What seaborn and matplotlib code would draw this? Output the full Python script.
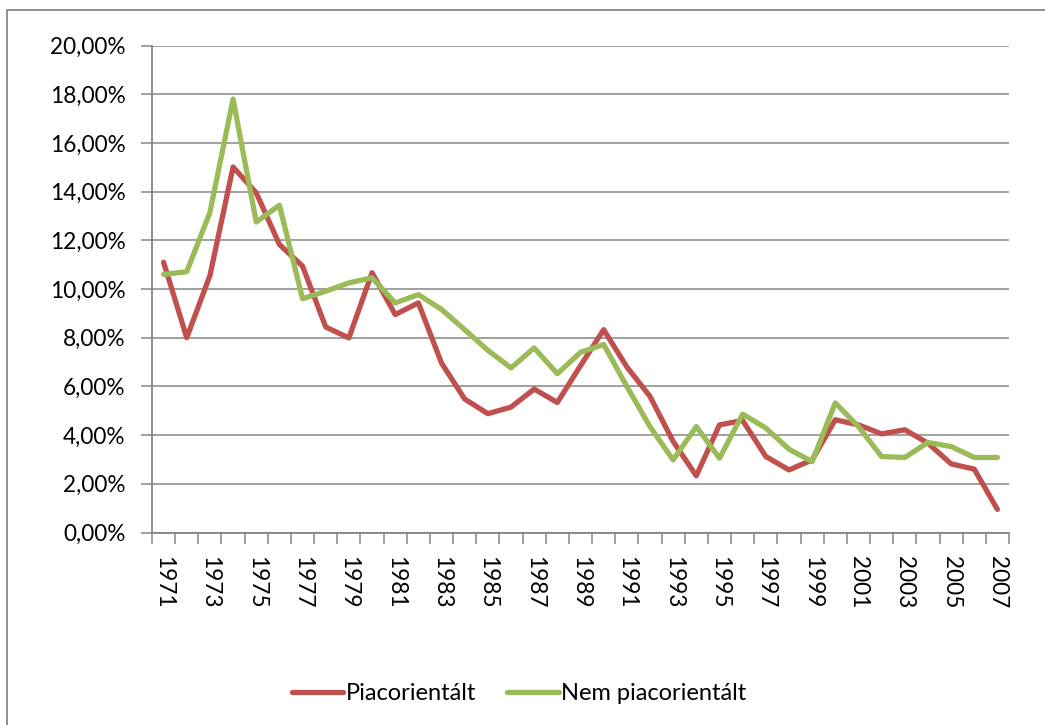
import matplotlib
matplotlib.use("Agg")
import matplotlib.pyplot as plt
import seaborn as sns
import pandas as pd
import numpy as np
from matplotlib.patches import Rectangle
from matplotlib.lines import Line2D

years = list(range(1971, 2008))
piac = [11.10, 8.00, 10.55, 15.01, 13.95, 11.83, 10.94, 8.44, 7.99, 10.67,
        8.95, 9.43, 6.96, 5.48, 4.88, 5.15, 5.89, 5.34, 6.85, 8.33,
        6.80, 5.59, 3.74, 2.33, 4.42, 4.60, 3.12, 2.57, 2.98, 4.63,
        4.42, 4.05, 4.22, 3.67, 2.82, 2.60, 0.95]
nem = [10.60, 10.71, 13.14, 17.80, 12.75, 13.44, 9.60, 9.91, 10.25, 10.46,
       9.43, 9.77, 9.16, 8.33, 7.48, 6.76, 7.58, 6.52, 7.40, 7.72,
       6.00, 4.35, 2.98, 4.35, 3.05, 4.86, 4.29, 3.42, 2.91, 5.32,
       4.35, 3.12, 3.08, 3.70, 3.53, 3.08, 3.08]
series_names = ["Piacorientált", "Nem piacorientált"]
colors = ["#C0504D", "#9BBB59"]
ytick_vals = [0, 2, 4, 6, 8, 10, 12, 14, 16, 18, 20]

sns.set_theme(style="white")
plt.rcParams['font.family'] = ['Lato', 'DejaVu Sans']
plt.rcParams['text.color'] = 'black'
plt.rcParams['xtick.labelcolor'] = 'black'
plt.rcParams['ytick.labelcolor'] = 'black'

df = pd.DataFrame({"idx": list(range(len(years))) * 2,
                   "value": piac + nem,
                   "series": [series_names[0]] * len(years) + [series_names[1]] * len(years)})

fig = plt.figure(figsize=(10.45, 7.25), dpi=100)
ax = fig.add_axes([152/1045, 1 - 532.5/725, (1009 - 152)/1045, (532.5 - 45.5)/725])

sns.lineplot(data=df, x="idx", y="value", hue="series", palette=colors,
             hue_order=series_names, linewidth=3.8, ax=ax, legend=False,
             sort=False, zorder=3)
for ln in ax.lines:
    ln.set_solid_joinstyle("round")
    ln.set_solid_capstyle("round")

ax.set_xlim(-0.5, len(years) - 0.5)
ax.set_ylim(0, 20)
ax.set_yticks(ytick_vals)
ax.set_yticklabels([f"{v:.2f}".replace(".", ",") + "%" for v in ytick_vals], fontsize=16.3)
ax.yaxis.grid(True, color="#868686", linewidth=1.1)
ax.set_axisbelow(True)

# x ticks at category boundaries, labels every other year
ax.set_xticks(np.arange(-0.5, len(years), 1.0))
ax.set_xticklabels([])
ax.set_xticks(list(range(0, len(years), 2)), minor=True)
ax.set_xticklabels([str(years[i]) for i in range(0, len(years), 2)], minor=True,
                   rotation=-90, fontsize=16.3)
ax.tick_params(axis="x", which="major", length=8, width=1.1, color="#868686", direction="out", bottom=True)
ax.tick_params(axis="x", which="minor", length=0, pad=17)
ax.tick_params(axis="y", length=8, width=1.1, color="#868686", direction="out", left=True, pad=11)

for s in ["top", "right"]:
    ax.spines[s].set_visible(False)
for s in ["left", "bottom"]:
    ax.spines[s].set_color("#868686")
    ax.spines[s].set_linewidth(1.3)
ax.set_xlabel("")
ax.set_ylabel("")

handles = [Line2D([0], [0], color=c, lw=3.8, solid_capstyle="round") for c in colors]
fig.legend(handles, series_names, loc="center", bbox_to_anchor=(519/1045, 1 - 694/725),
           ncol=2, frameon=False, fontsize=17, handlelength=2.2, handletextpad=0.1,
           columnspacing=1.3)

fig.patches.append(Rectangle((7/1045, -0.1), 1.2, 1 - 10/725 + 0.1, transform=fig.transFigure,
                             fill=False, edgecolor="#868686", linewidth=1.3))

fig.savefig("out.png", dpi=100)
